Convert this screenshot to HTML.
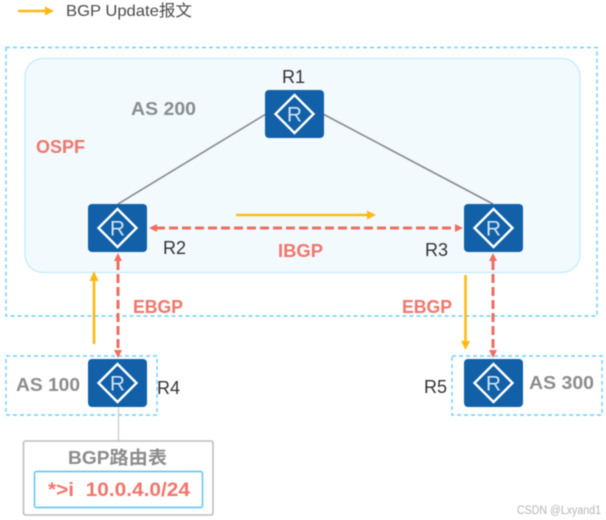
<!DOCTYPE html>
<html>
<head>
<meta charset="utf-8">
<style>
html,body{margin:0;padding:0;background:#fff;width:606px;height:520px;overflow:hidden}
svg{display:block;filter:blur(0.5px)}
text{font-family:"Liberation Sans","Noto Sans CJK SC",sans-serif}
.b{font-weight:bold}
</style>
</head>
<body>
<svg width="606" height="520" viewBox="0 0 606 520" xmlns="http://www.w3.org/2000/svg">
<defs>
<g id="r">
<rect x="0" y="0" width="59" height="48" rx="4" fill="#1160a8"/>
<polygon points="29.5,5 48.500,24 29.5,43 10.500,24" fill="none" stroke="#fff" stroke-width="2.4"/>
<text x="29.5" y="31.500" font-size="21" fill="#cfe3f5" text-anchor="middle">R</text>
</g>
</defs>

<!-- legend -->
<line x1="18" y1="11" x2="46" y2="11" stroke="#fdb913" stroke-width="2.4"/>
<polygon points="45,6.5 54,11 45,15.5" fill="#fdb913"/>
<text x="66" y="16" font-size="16" fill="#4a4a4a" textLength="126" lengthAdjust="spacingAndGlyphs">BGP Update报文</text>

<!-- containers -->
<rect x="6" y="47.5" width="591" height="268.5" fill="none" stroke="#6bd0f7" stroke-width="1.4" stroke-dasharray="4 3"/>
<rect x="25" y="58.5" width="555" height="214" rx="18" fill="#f2fafe" stroke="#bfeafc" stroke-width="1.2"/>
<rect x="6" y="356" width="151" height="59" fill="none" stroke="#6bd0f7" stroke-width="1.4" stroke-dasharray="4 3"/>
<rect x="452" y="356" width="150" height="59" fill="none" stroke="#6bd0f7" stroke-width="1.4" stroke-dasharray="4 3"/>

<!-- links -->
<line x1="118" y1="204" x2="266" y2="114" stroke="#8a8a8a" stroke-width="1.6"/>
<line x1="323" y1="114" x2="493" y2="204" stroke="#8a8a8a" stroke-width="1.6"/>
<line x1="118.500" y1="406" x2="118.500" y2="441" stroke="#c8c8c8" stroke-width="1.2"/>

<!-- yellow arrows -->
<line x1="236" y1="215" x2="368" y2="215" stroke="#fdb913" stroke-width="2.6"/>
<polygon points="367,210.500 376,215 367,219.500" fill="#fdb913"/>
<line x1="94" y1="344" x2="94" y2="280" stroke="#fdb913" stroke-width="2.6"/>
<polygon points="89.500,281 94,271 98.500,281" fill="#fdb913"/>
<line x1="465.500" y1="275" x2="465.500" y2="342" stroke="#fdb913" stroke-width="2.6"/>
<polygon points="461,341 465.500,350 470,341" fill="#fdb913"/>

<!-- red dashed -->
<line x1="156" y1="228" x2="456" y2="228" stroke="#ee6e62" stroke-width="3" stroke-dasharray="9 4"/>
<polygon points="157,224 149,228 157,232" fill="#ee6e62"/>
<polygon points="455,224 463,228 455,232" fill="#ee6e62"/>
<line x1="118" y1="261" x2="118" y2="350" stroke="#ee6e62" stroke-width="3" stroke-dasharray="9 4"/>
<polygon points="114,261 118,253 122,261" fill="#ee6e62"/>
<polygon points="114,350 118,358 122,350" fill="#ee6e62"/>
<line x1="493" y1="261" x2="493" y2="350" stroke="#ee6e62" stroke-width="3" stroke-dasharray="9 4"/>
<polygon points="489,261 493,253 497,261" fill="#ee6e62"/>
<polygon points="489,350 493,358 497,350" fill="#ee6e62"/>

<!-- routers -->
<use href="#r" x="265" y="90"/>
<use href="#r" x="88" y="204"/>
<use href="#r" x="464" y="204"/>
<use href="#r" x="88" y="359"/>
<use href="#r" x="464" y="359"/>

<!-- labels -->
<text x="282" y="83" font-size="18" fill="#333">R1</text>
<text x="163" y="254" font-size="18" fill="#333">R2</text>
<text x="425" y="256" font-size="18" fill="#333">R3</text>
<text x="157" y="394" font-size="18" fill="#333">R4</text>
<text x="424" y="393" font-size="18" fill="#333">R5</text>

<text x="131" y="115" font-size="18.500" class="b" fill="#8c8c8c" textLength="65" lengthAdjust="spacingAndGlyphs">AS 200</text>
<text x="16" y="391" font-size="18.500" class="b" fill="#8c8c8c" textLength="64" lengthAdjust="spacingAndGlyphs">AS 100</text>
<text x="529" y="389" font-size="18.500" class="b" fill="#8c8c8c" textLength="65" lengthAdjust="spacingAndGlyphs">AS 300</text>

<text x="36" y="153" font-size="18" class="b" fill="#f0766b" textLength="49" lengthAdjust="spacingAndGlyphs">OSPF</text>
<text x="278" y="257" font-size="18" class="b" fill="#f0766b" textLength="45" lengthAdjust="spacingAndGlyphs">IBGP</text>
<text x="133" y="313" font-size="18" class="b" fill="#f0766b" textLength="50" lengthAdjust="spacingAndGlyphs">EBGP</text>
<text x="402" y="313" font-size="18" class="b" fill="#f0766b" textLength="50" lengthAdjust="spacingAndGlyphs">EBGP</text>

<!-- table -->
<rect x="23.500" y="441" width="189.500" height="74" rx="2" fill="#fff" stroke="#bdbdbd" stroke-width="1.6"/>
<text x="68" y="464" font-size="18" class="b" fill="#8c8c8c" textLength="99" lengthAdjust="spacingAndGlyphs">BGP路由表</text>
<rect x="34.500" y="471.500" width="168" height="36" rx="2" fill="#fff" stroke="#4fc3f2" stroke-width="1.4"/>
<text x="48" y="496" font-size="19" class="b" fill="#f0766b" textLength="142" lengthAdjust="spacingAndGlyphs">*&gt;i&#160;&#160;10.0.4.0/24</text>

<!-- watermark -->
<text x="517" y="514" font-size="11.500" fill="#b5b5b5" textLength="84" lengthAdjust="spacingAndGlyphs">CSDN @Lxyand1</text>
</svg>
</body>
</html>
